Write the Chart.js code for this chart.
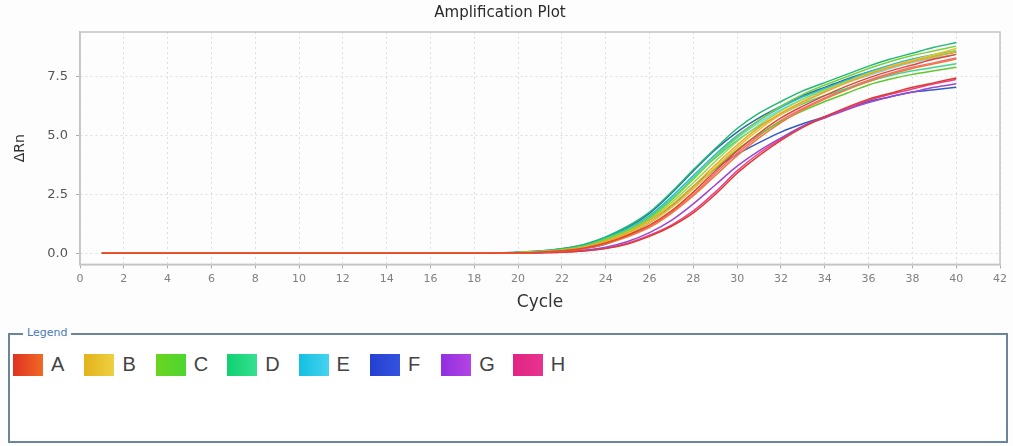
<!DOCTYPE html>
<html lang="en">
<head>
    <meta charset="UTF-8">
    <title>Amplification Plot</title>
    <script src="https://cdn.jsdelivr.net/npm/chart.js"></script>
    <style>
        body {
            margin: 0;
            background: #fdfdfd;
            font-family: "Liberation Sans", Arial, sans-serif;
        }
        #chartBox {
            position: absolute;
            left: 0;
            top: 0;
            width: 1013px;
            height: 318px;
        }
        .legendBox {
            position: absolute;
            left: 8px;
            top: 333px;
            width: 996px;
            height: 106px;
            border: 2px solid #6a8599;
            background: #fff;
        }
        .legendBox .caption {
            position: absolute;
            left: 13px;
            top: -9px;
            padding: 0 4px;
            background: #fdfdfd;
            font-family: "DejaVu Sans", sans-serif;
            font-size: 11px;
            color: #4a7ab8;
        }
        .items {
            position: absolute;
            left: 3px;
            top: 18px;
        }
        .item {
            display: inline-block;
            width: 71.4px;
            white-space: nowrap;
        }
        .swatch {
            display: inline-block;
            width: 30px;
            height: 22px;
            vertical-align: middle;
        }
        .item span.lbl {
            display: inline-block;
            margin-left: 8px;
            font-size: 20px;
            color: #444;
            vertical-align: middle;
        }
    </style>
</head>
<body>
<div id="chartBox"><canvas id="ampChart" width="1013" height="318"></canvas></div>

<div class="legendBox">
    <div class="caption">Legend</div>
    <div class="items" id="legendItems"></div>
</div>

<script>
// cycles 1..40
const cycles = [1,2,3,4,5,6,7,8,9,10,11,12,13,14,15,16,17,18,19,20,
                21,22,23,24,25,26,27,28,29,30,31,32,33,34,35,36,37,38,39,40];

// delta Rn per well
const D1 = [0,0,0,0,0,0,0,0,0,0,0,0,0,0,0,0,0,0,0.02,0.05,0.1,0.2,0.38,0.7,1.15,1.75,2.6,3.55,4.45,5.3,5.95,6.45,6.9,7.25,7.6,7.95,8.25,8.5,8.75,8.95];
const F2 = [0,0,0,0,0,0,0,0,0,0,0,0,0,0,0,0,0,0,0.02,0.05,0.1,0.2,0.36,0.68,1.1,1.7,2.55,3.5,4.4,5.15,5.75,6.25,6.7,7.05,7.4,7.7,7.95,8.2,8.4,8.55];
const E1 = [0,0,0,0,0,0,0,0,0,0,0,0,0,0,0,0,0,0,0.02,0.04,0.08,0.17,0.33,0.65,1.05,1.6,2.4,3.3,4.2,5.0,5.65,6.2,6.65,7.0,7.35,7.7,8.0,8.25,8.45,8.6];
const E2 = [0,0,0,0,0,0,0,0,0,0,0,0,0,0,0,0,0,0,0.02,0.04,0.08,0.16,0.31,0.62,1.0,1.55,2.3,3.2,4.1,4.9,5.55,6.1,6.55,6.9,7.25,7.55,7.85,8.1,8.3,8.45];
const C1 = [0,0,0,0,0,0,0,0,0,0,0,0,0,0,0,0,0,0,0.02,0.04,0.08,0.16,0.3,0.6,0.98,1.5,2.25,3.15,4.1,4.95,5.65,6.25,6.75,7.15,7.5,7.85,8.15,8.4,8.6,8.8];
const C2 = [0,0,0,0,0,0,0,0,0,0,0,0,0,0,0,0,0,0,0.01,0.03,0.07,0.14,0.28,0.56,0.93,1.45,2.15,3.0,3.9,4.75,5.45,6.05,6.55,6.95,7.3,7.65,7.95,8.2,8.4,8.6];
const C3 = [0,0,0,0,0,0,0,0,0,0,0,0,0,0,0,0,0,0,0.01,0.03,0.06,0.12,0.25,0.5,0.84,1.3,1.95,2.75,3.6,4.4,5.05,5.6,6.05,6.45,6.8,7.15,7.4,7.6,7.75,7.9];
const D2 = [0,0,0,0,0,0,0,0,0,0,0,0,0,0,0,0,0,0,0.02,0.04,0.08,0.16,0.31,0.62,1.0,1.55,2.3,3.2,4.05,4.8,5.4,5.9,6.35,6.7,7.0,7.3,7.55,7.75,7.9,8.05];
const B1 = [0,0,0,0,0,0,0,0,0,0,0,0,0,0,0,0,0,0,0.01,0.03,0.06,0.12,0.26,0.52,0.88,1.4,2.05,2.85,3.75,4.6,5.35,5.95,6.45,6.85,7.25,7.6,7.9,8.15,8.35,8.55];
const B2 = [0,0,0,0,0,0,0,0,0,0,0,0,0,0,0,0,0,0,0.01,0.03,0.06,0.12,0.24,0.48,0.83,1.3,1.95,2.75,3.65,4.5,5.25,5.9,6.4,6.85,7.25,7.6,7.95,8.2,8.45,8.7];
const A1 = [0,0,0,0,0,0,0,0,0,0,0,0,0,0,0,0,0,0,0.01,0.02,0.05,0.11,0.22,0.44,0.77,1.2,1.8,2.6,3.5,4.35,5.1,5.75,6.25,6.7,7.1,7.45,7.75,8.0,8.25,8.45];
const A2 = [0,0,0,0,0,0,0,0,0,0,0,0,0,0,0,0,0,0,0.01,0.02,0.05,0.1,0.2,0.4,0.7,1.1,1.7,2.45,3.3,4.15,4.9,5.55,6.1,6.55,6.95,7.3,7.6,7.85,8.05,8.25];
const A3 = [0,0,0,0,0,0,0,0,0,0,0,0,0,0,0,0,0,0,0,0.01,0.03,0.05,0.1,0.2,0.4,0.72,1.15,1.72,2.5,3.4,4.15,4.8,5.35,5.8,6.2,6.55,6.8,7.05,7.25,7.45];
const H1 = [0,0,0,0,0,0,0,0,0,0,0,0,0,0,0,0,0,0,0,0.01,0.03,0.06,0.11,0.22,0.43,0.77,1.2,1.8,2.6,3.5,4.25,4.85,5.4,5.8,6.15,6.5,6.75,6.98,7.2,7.38];
const H2 = [0,0,0,0,0,0,0,0,0,0,0,0,0,0,0,0,0,0,0.01,0.02,0.05,0.1,0.21,0.42,0.74,1.15,1.75,2.5,3.4,4.25,5.0,5.65,6.15,6.6,7.0,7.35,7.65,7.9,8.1,8.3];
const G1 = [0,0,0,0,0,0,0,0,0,0,0,0,0,0,0,0,0,0,0,0.01,0.03,0.06,0.13,0.26,0.5,0.88,1.4,2.1,2.9,3.7,4.35,4.9,5.4,5.75,6.1,6.4,6.65,6.85,7.05,7.2];
const F1 = [0,0,0,0,0,0,0,0,0,0,0,0,0,0,0,0,0,0,0.01,0.02,0.05,0.1,0.2,0.4,0.78,1.3,2.0,2.85,3.6,4.2,4.7,5.15,5.5,5.8,6.15,6.45,6.65,6.85,6.95,7.05];

const wells = [
    { name: 'A1', data: A1, color: '#e8452c' },
    { name: 'A2', data: A2, color: '#f07a3c' },
    { name: 'A3', data: A3, color: '#e03a30' },
    { name: 'B1', data: B1, color: '#eea52a' },
    { name: 'B2', data: B2, color: '#e8c434' },
    { name: 'C1', data: C1, color: '#7ad23a' },
    { name: 'C2', data: C2, color: '#98dc4a' },
    { name: 'C3', data: C3, color: '#62c830' },
    { name: 'D1', data: D1, color: '#22b878' },
    { name: 'D2', data: D2, color: '#3cd88e' },
    { name: 'E1', data: E1, color: '#28b8d8' },
    { name: 'E2', data: E2, color: '#70d4e4' },
    { name: 'H2', data: H2, color: '#f06a80' },
    { name: 'G1', data: G1, color: '#9a48d0' },
    { name: 'H1', data: H1, color: '#e8408c' },
    { name: 'F1', data: F1, color: '#3458c8' },
    { name: 'F2', data: F2, color: '#2a6a9a' }
];

// legend groups
const groupNames = ['A', 'B', 'C', 'D', 'E', 'F', 'G', 'H'];
const groupColors = [
    ['#e03222', '#f06a24'],
    ['#e2b21c', '#eed040'],
    ['#6ad420', '#4cd630'],
    ['#10d070', '#36e090'],
    ['#14c0e0', '#46d2f0'],
    ['#2440d0', '#3452e0'],
    ['#9030e0', '#b444e4'],
    ['#e02484', '#e8348e']
];

const yTicks = [0, 2.5, 5, 7.5];

const legendEl = document.getElementById('legendItems');
groupNames.forEach((g, i) => {
    const item = document.createElement('div');
    item.className = 'item';
    item.innerHTML = '<span class="swatch" style="background:linear-gradient(to right,' +
        groupColors[i][0] + ',' + groupColors[i][1] + ')"></span><span class="lbl">' + g + '</span>';
    legendEl.appendChild(item);
});

const plotFrame = {
    id: 'plotFrame',
    afterDraw(chart) {
        const a = chart.chartArea;
        const c = chart.ctx;
        c.save();
        c.strokeStyle = '#c4c4c4';
        c.lineWidth = 1.5;
        c.strokeRect(a.left, a.top, a.right - a.left, a.bottom - a.top);
        c.restore();
    }
};

const ctx = document.getElementById('ampChart').getContext('2d');

const chart = new Chart(ctx, {
    type: 'line',
    data: {
        datasets: wells.map(w => ({
            label: w.name,
            data: cycles.map((c, i) => ({ x: c, y: w.data[i] })),
            borderColor: w.color,
            borderWidth: 1.5,
            pointRadius: 0,
            fill: false,
            cubicInterpolationMode: 'monotone'
        }))
    },
    options: {
        responsive: false,
        animation: false,
        devicePixelRatio: 1,
        layout: { padding: { left: 0, right: 13, top: 0, bottom: 2 } },
        plugins: {
            legend: { display: false },
            tooltip: { enabled: false },
            title: {
                display: true,
                text: 'Amplification Plot',
                color: '#2a2a2a',
                font: { size: 15, family: 'DejaVu Sans', weight: 'normal' },
                padding: { top: 4, bottom: 10 }
            }
        },
        scales: {
            x: {
                type: 'linear',
                min: 0,
                max: 42,
                ticks: {
                    stepSize: 2,
                    color: '#808080',
                    padding: 4,
                    maxRotation: 0,
                    font: { size: 11, family: 'DejaVu Sans' }
                },
                grid: {
                    color: '#dedede',
                    tickColor: '#aaa',
                    tickLength: 4,
                    lineWidth: 1
                },
                border: { display: true, color: '#c4c4c4', width: 1.5, dash: [2, 3] },
                title: {
                    display: true,
                    text: 'Cycle',
                    color: '#333',
                    font: { size: 17, family: 'DejaVu Sans' },
                    padding: { top: 3, bottom: 3 }
                }
            },
            y: {
                min: -0.47,
                max: 9.4,
                afterBuildTicks: scale => {
                    scale.ticks = yTicks.map(v => ({ value: v }));
                },
                afterFit: scale => {
                    scale.width = 80;
                },
                ticks: {
                    color: '#555',
                    padding: 8,
                    font: { size: 13, family: 'DejaVu Sans' },
                    callback: v => v.toFixed(1)
                },
                grid: {
                    color: '#dedede',
                    tickColor: '#aaa',
                    tickLength: 4,
                    lineWidth: 1
                },
                border: { display: true, color: '#c4c4c4', width: 1.5, dash: [2, 3] },
                title: {
                    display: true,
                    text: '\u0394Rn',
                    color: '#333',
                    font: { size: 14, family: 'DejaVu Sans' },
                    padding: { top: 12, bottom: 0 }
                }
            }
        }
    },
    plugins: [plotFrame]
});
</script>

</body>
</html>
